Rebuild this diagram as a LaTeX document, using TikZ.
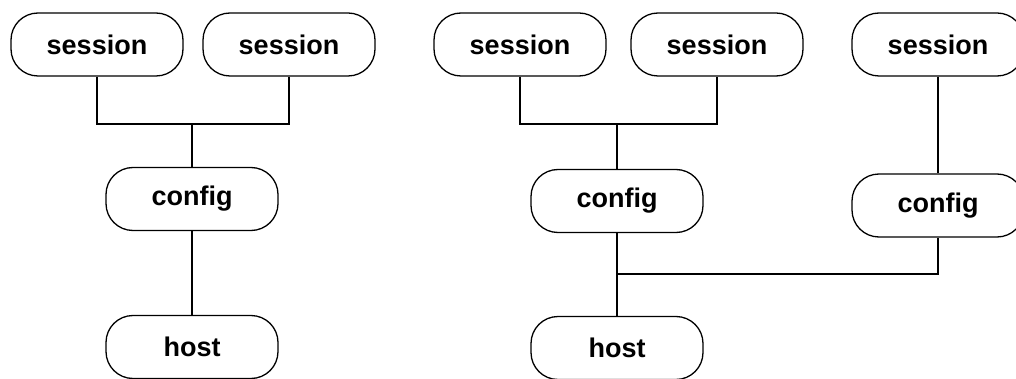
\documentclass[tikz,border=0pt]{standalone}
\usepackage{fontspec}
\setmainfont{Liberation Sans}
\begin{document}
\begin{tikzpicture}[x=1pt,y=-1pt,line width=1.3pt,
  box/.style={draw,rounded corners=27pt,minimum width=172pt,minimum height=63pt,
    font=\fontsize{27}{30}\selectfont\bfseries}]
\useasboundingbox (0,0) rectangle (1016,379);
% left: two sessions, one config
\node [box] (s1) at (97,44.5) {session};
\node [box] (s2) at (289,44.5) {session};
\node [box] (c1) at (192,199) {config};
\node [box] (h1) at (192,347) {host};
\coordinate (j1) at (192,124);

\draw (s1.south) |- (j1) -| (s2.south);
\draw (j1) -- (c1.north);
\draw (c1.south) -- (h1.north);

% right: two configs on one host
\node [box] (s3) at (520,44.5) {session};
\node [box] (s4) at (717,44.5) {session};
\node [box] (s5) at (938,44.5) {session};
\node [box] (c2) at (617,201) {config};
\node [box] (c3) at (938,205.5) {config};
\node [box] (h2) at (617,348) {host};
\coordinate (j2) at (617,124);
\coordinate (j3) at (617,274);

\draw (s3.south) |- (j2) -| (s4.south);
\draw (j2) -- (c2.north);
\draw (c2.south) -- (h2.north);
\draw (j3) -| (c3.south);
\draw (s5.south) -- (c3.north);

\end{tikzpicture}
\end{document}
